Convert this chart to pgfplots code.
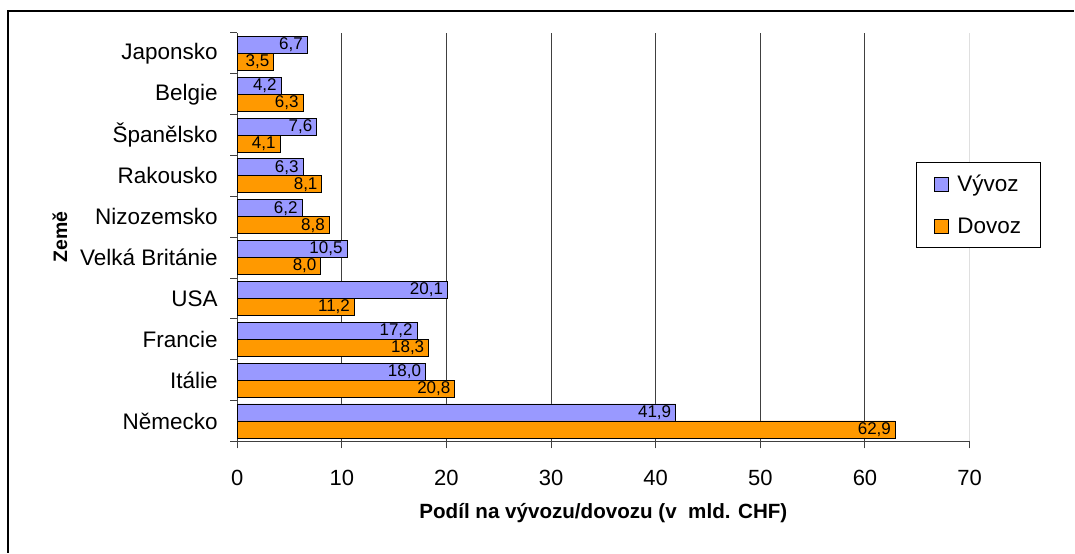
\documentclass[border=0pt]{standalone}
\usepackage{fontspec}
\setmainfont{Liberation Sans}
\usepackage{pgfplots}
\pgfplotsset{compat=1.18}
\definecolor{vyvoz}{HTML}{9999FF}
\definecolor{dovoz}{HTML}{FF9900}
\definecolor{gridc}{HTML}{404040}
\begin{document}
\begin{tikzpicture}[x=1pt,y=1pt]
\path (0,0) rectangle (1075,553);
\draw[line width=1.5pt, black] (8,0) -- (8,542) -- (1075,542);
\begin{axis}[
  at={(237.3pt,111.3pt)}, anchor=south west,
  scale only axis, width=733pt, height=408.7pt,
  xmin=0, xmax=70, ymin=-0.5, ymax=9.5,
  xbar, bar width=0.416,
  axis lines*=left,
  axis line style={-, gridc, line width=1.2pt},
  /pgf/number format/assume math mode=true,
  xtick={0,10,...,60},
  extra x ticks={70},
  extra x tick style={grid style={gray!25, line width=0.8pt}},
  xmajorgrids,
  grid style={gridc, line width=1pt},
  ytick={-0.5,0.5,...,9.5},
  yticklabels={Německo, Itálie, Francie, USA, Velká Británie, Nizozemsko, Rakousko, Španělsko, Belgie, Japonsko},
  y tick label as interval,
  yticklabel style={font=\fontsize{22.5}{26}\selectfont, xshift=-9pt},
  tick align=outside,
  major tick length=7pt,
  tick style={gridc, line width=1pt},
  xticklabel style={font=\fontsize{22}{26}\selectfont, yshift=-18pt},
  xlabel={\bfseries Podíl na vývozu/dovozu (v\ \ mld. CHF)},
  xlabel style={at={(axis description cs:0.5,-0.1745)}, anchor=center, font=\fontsize{20.6}{24}\selectfont},
  ylabel={\bfseries Země},
  ylabel style={at={(axis description cs:-0.2419,0.5)}, anchor=center, font=\fontsize{19.5}{24}\selectfont},
  legend style={at={(0.927,0.684)}, anchor=north west, draw=black, line width=0.9pt,
    font=\fontsize{22.5}{26}\selectfont, inner xsep=17pt, inner ysep=10.5pt, row sep=21pt,
    legend cell align=left, /tikz/every odd column/.append style={column sep=7pt}},
  legend image code/.code={\draw[#1, line width=0.9pt] (0pt,-7pt) rectangle (14pt,7pt);},
  point meta=x,
  nodes near coords={\pgfmathprintnumber[fixed,fixed zerofill,precision=1,use comma,assume math mode=true]{\pgfplotspointmeta}},
  every node near coord/.append style={anchor=east, font=\fontsize{17}{18}\selectfont, black, inner sep=4pt},
]
\addplot[bar shift=0.208, fill=vyvoz, draw=black, line width=0.9pt]
  coordinates {(41.9,0) (18.0,1) (17.2,2) (20.1,3) (10.5,4) (6.2,5) (6.3,6) (7.6,7) (4.2,8) (6.7,9)};
\addplot[bar shift=-0.208, fill=dovoz, draw=black, line width=0.9pt]
  coordinates {(62.9,0) (20.8,1) (18.3,2) (11.2,3) (8.0,4) (8.8,5) (8.1,6) (4.1,7) (6.3,8) (3.5,9)};
\legend{Vývoz, Dovoz}
\end{axis}
\end{tikzpicture}
\end{document}
